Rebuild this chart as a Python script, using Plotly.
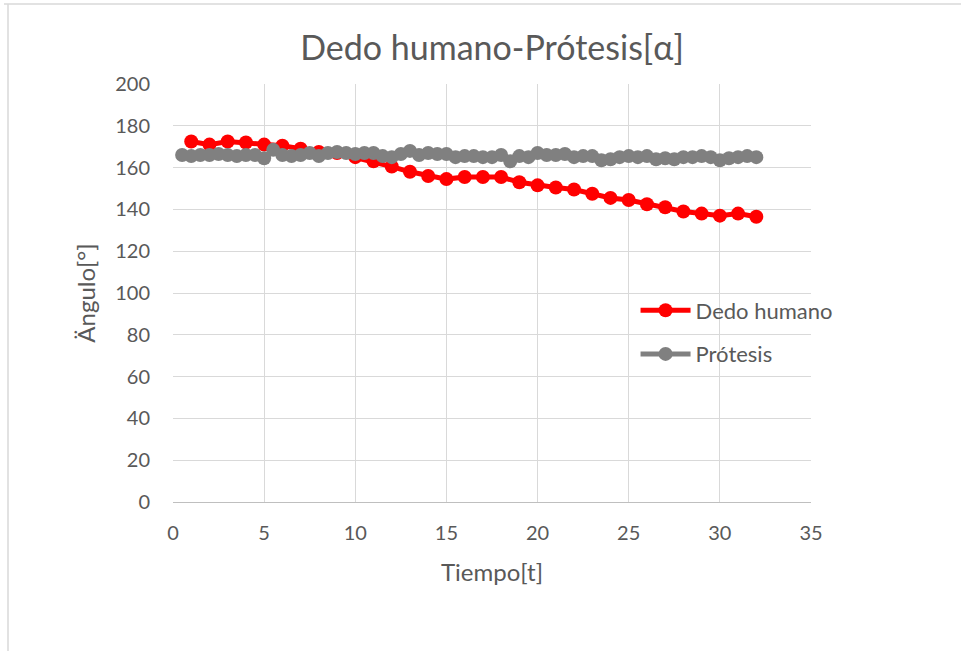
import plotly.graph_objects as go

# Finger angle over time: human finger vs. prosthesis
tiempo_dedo = list(range(1, 33))
angulo_dedo = [172.5, 171, 172.5, 172, 171, 170.5, 169, 167.5, 167, 165,
               163, 160.5, 158, 156, 154.5, 155.5, 155.5, 155.5, 153, 151.5,
               150.5, 149.5, 147.5, 145.5, 144.5, 142.5, 141, 139, 138, 137,
               138, 136.5]

tiempo_protesis = [i * 0.5 for i in range(1, 65)]
angulo_protesis = [166, 165.5, 166, 166, 166.5, 166, 165.5, 166, 166, 164.5,
                   168.5, 166, 165.5, 166, 167, 165.5, 167, 167.5, 167, 166.5,
                   167, 167, 165.5, 165, 166.5, 168, 166, 167, 166.5, 166.5,
                   165, 165.5, 165.5, 165, 165, 166, 163, 165.5, 165, 167,
                   166, 166, 166.5, 165, 165.5, 165.5, 163.5, 164, 165, 165.5,
                   165, 165.5, 164, 164.5, 164, 165, 165, 165.5, 165, 163.5,
                   164.5, 165, 165.5, 165]

x_ticks = [0, 5, 10, 15, 20, 25, 30, 35]
y_ticks = [0, 20, 40, 60, 80, 100, 120, 140, 160, 180, 200]

FONT = "Lato"
TXT = "#595959"
GRID = "#d9d9d9"

# plot area in pixels
L, R, T, B = 173, 811, 84, 502
W, H = 961, 651
PW, PH = R - L, B - T

fig = go.Figure()
fig.add_trace(go.Scatter(
    x=tiempo_dedo, y=angulo_dedo, name="Dedo humano",
    mode="lines+markers", legendgroup="a",
    line=dict(color="#ff0000", width=5),
    marker=dict(color="#ff0000", size=14),
))
fig.add_trace(go.Scatter(
    x=tiempo_protesis, y=angulo_protesis, name="Prótesis",
    mode="lines+markers", legendgroup="b",
    line=dict(color="#808080", width=5),
    marker=dict(color="#808080", size=14),
))

fig.update_layout(
    width=W, height=H,
    margin=dict(l=L, r=W - R, t=T, b=H - B),
    paper_bgcolor="white", plot_bgcolor="white",
    font=dict(family=FONT, color=TXT, size=20),
    title=dict(text="Dedo humano-Prótesis[α]", x=0.5, xref="paper",
               y=1 - 48 / H, yanchor="middle",
               font=dict(size=34, color=TXT, family=FONT)),
    xaxis=dict(range=[0, 35], tickvals=x_ticks, showgrid=True,
               gridcolor=GRID, gridwidth=1, zeroline=False,
               showline=True, linecolor="#bfbfbf", linewidth=1,
               ticks="", ticklabelstandoff=13,
               tickfont=dict(size=20, color=TXT),
               title=dict(text="Tiempo[t]", font=dict(size=24, color=TXT),
                          standoff=21)),
    yaxis=dict(range=[0, 200], tickvals=y_ticks, showgrid=True,
               gridcolor=GRID, gridwidth=1, zeroline=False,
               showline=False, ticks="", ticklabelstandoff=22,
               tickfont=dict(size=20, color=TXT),
               title=dict(text="Ängulo[°]", font=dict(size=24, color=TXT),
                          standoff=12)),
    showlegend=True,
    legend=dict(x=0.725, y=(B - 332.5) / PH, xanchor="left",
                yanchor="middle", bgcolor="rgba(0,0,0,0)",
                font=dict(size=22, color=TXT),
                tracegroupgap=12, itemwidth=50),
    shapes=[
        dict(type="line", xref="paper", yref="paper",
             x0=(8 - L) / PW, x1=(8 - L) / PW,
             y0=(B - 4) / PH, y1=(B - 660) / PH,
             line=dict(color="#d9d9d9", width=1.5)),
        dict(type="line", xref="paper", yref="paper",
             x0=(4 - L) / PW, x1=(970 - L) / PW,
             y0=(B - 4) / PH, y1=(B - 4) / PH,
             line=dict(color="#d9d9d9", width=1.5)),
    ],
)

fig.write_html("out.html")
